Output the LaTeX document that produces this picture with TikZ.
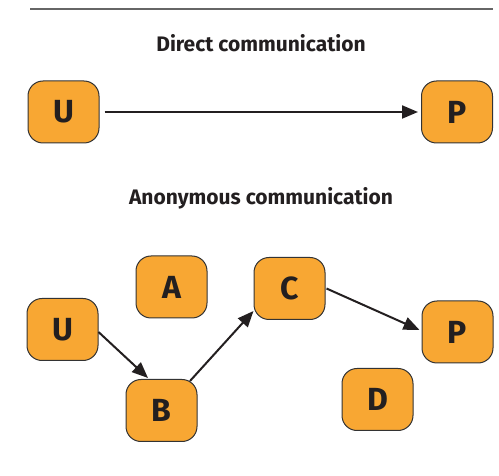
\documentclass[tikz,border=0pt]{standalone}
\usepackage{fontspec}
\setmainfont{Fira Sans}
\usetikzlibrary{arrows.meta,calc}
\definecolor{boxfill}{HTML}{F8A733}
\definecolor{boxline}{HTML}{333333}
\definecolor{rulegray}{HTML}{666666}
\definecolor{ink}{HTML}{231F20}
\begin{document}
\begin{tikzpicture}[x=1pt,y=-1pt,
  peer/.style={draw=boxline,line width=1pt,fill=boxfill,rounded corners=15pt,
    minimum width=71pt,minimum height=62pt,inner sep=0pt,
    font=\fontsize{32}{32}\selectfont\bfseries,text=ink},
  title/.style={font=\fontsize{21}{21}\selectfont\bfseries,text=ink},
  link/.style={draw=ink,line width=2pt,-{Triangle[length=16pt,width=13pt]}}]
\useasboundingbox (0,0) rectangle (499,476);
\coordinate (rl) at (30,9);
\coordinate (rr) at (493,9);
\draw[rulegray,line width=2pt] (rl) -- (rr);
\node[title] (t1) at (261,43) {Direct communication};
\node[peer] (U1) at (63.5,112) {U};
\node[peer] (P1) at (457,112) {P};
\draw[link,shorten <=5pt,shorten >=3pt] (U1.east) -- (P1.west);
\node[title] (t2) at (261,198) {Anonymous communication};
\node[peer] (U2) at (62.5,329.5) {U};
\node[peer] (A) at (171.5,287) {A};
\node[peer] (C) at (289.5,288.5) {C};
\node[peer] (P2) at (457.5,332) {P};
\node[peer] (B) at (161.5,410.5) {B};
\node[peer] (D) at (377.5,399.5) {D};
\draw[link] ($(U2.east)+(0,2.5)$) -- ($(B.north)+(-13.5,-1)$);
\draw[link] ($(B.north)+(28.5,2)$) -- ($(C.west)+(0,22.5)$);
\draw[link] ($(C.east)+(1,0)$) -- ($(P2.west)+(-2,-2)$);
\end{tikzpicture}
\end{document}
